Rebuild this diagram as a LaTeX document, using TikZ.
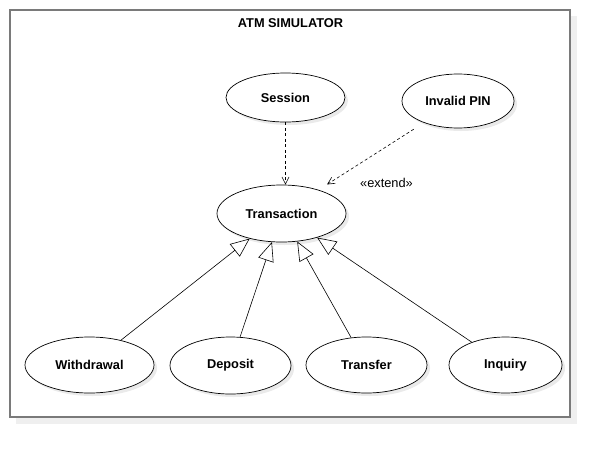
\documentclass[tikz,border=0pt]{standalone}
\usepackage{fontspec}
\setmainfont{Liberation Sans}
\usetikzlibrary{shapes.geometric,arrows.meta,shadows}
\definecolor{framegray}{HTML}{7A7A7A}
\definecolor{shadowgray}{HTML}{EFEFEF}
\definecolor{ushadow}{HTML}{EAEAEA}
\begin{document}
\begin{tikzpicture}[x=1pt,y=-1pt,
  uc/.style={ellipse,draw=black,line width=0.7pt,fill=white,inner sep=0pt,
    font=\fontsize{12.8}{14}\selectfont\bfseries,
    drop shadow={shadow xshift=3pt,shadow yshift=-3pt,fill=ushadow,opacity=1}},
  gen/.style={line width=0.6pt,-{Triangle[open,length=19pt,width=16pt,line width=0.6pt]}},
  dep/.style={line width=0.6pt,dash pattern=on 3pt off 2.5pt,-{Straight Barb[length=7pt,width=7pt,line width=0.6pt]}},
  lbl/.style={inner sep=0pt,font=\fontsize{12.8}{14}\selectfont}
]
\useasboundingbox (0,0) rectangle (610,458);
\fill[shadowgray] (16,16) rectangle (577,424);
\draw[framegray,line width=1.5pt,fill=white] (10,10) rectangle (570,417);
\node[lbl,font=\fontsize{12.8}{14}\selectfont\bfseries] (title) at (290.5,23) {ATM SIMULATOR};

\node[uc,minimum width=119pt,minimum height=49pt] (session) at (285.5,97.5) {Session};
\node[uc,minimum width=112pt,minimum height=54pt] (invalid) at (458,101) {Invalid PIN};
\node[uc,minimum width=129pt,minimum height=57pt] (trans) at (281.5,213.5) {Transaction};
\node[uc,minimum width=129pt,minimum height=56pt] (wd) at (89.5,365) {Withdrawal};
\node[uc,minimum width=121pt,minimum height=57pt] (dp) at (230.5,365.5) {Deposit};
\node[uc,minimum width=121pt,minimum height=56pt] (tf) at (366.5,365) {Transfer};
\node[uc,minimum width=113pt,minimum height=56pt] (inq) at (505.5,365) {Inquiry};

\draw[dep] (session.south) -- (session.south |- trans.north);
\draw[dep,shorten <=12pt,shorten >=10pt] (invalid) -- (trans);
\node[lbl] (ext) at (386.5,183) {«extend»};

\draw[gen] (wd) -- (trans);
\draw[gen] (dp) -- (trans);
\draw[gen] (tf) -- (trans);
\draw[gen] (inq) -- (trans);
\end{tikzpicture}
\end{document}
